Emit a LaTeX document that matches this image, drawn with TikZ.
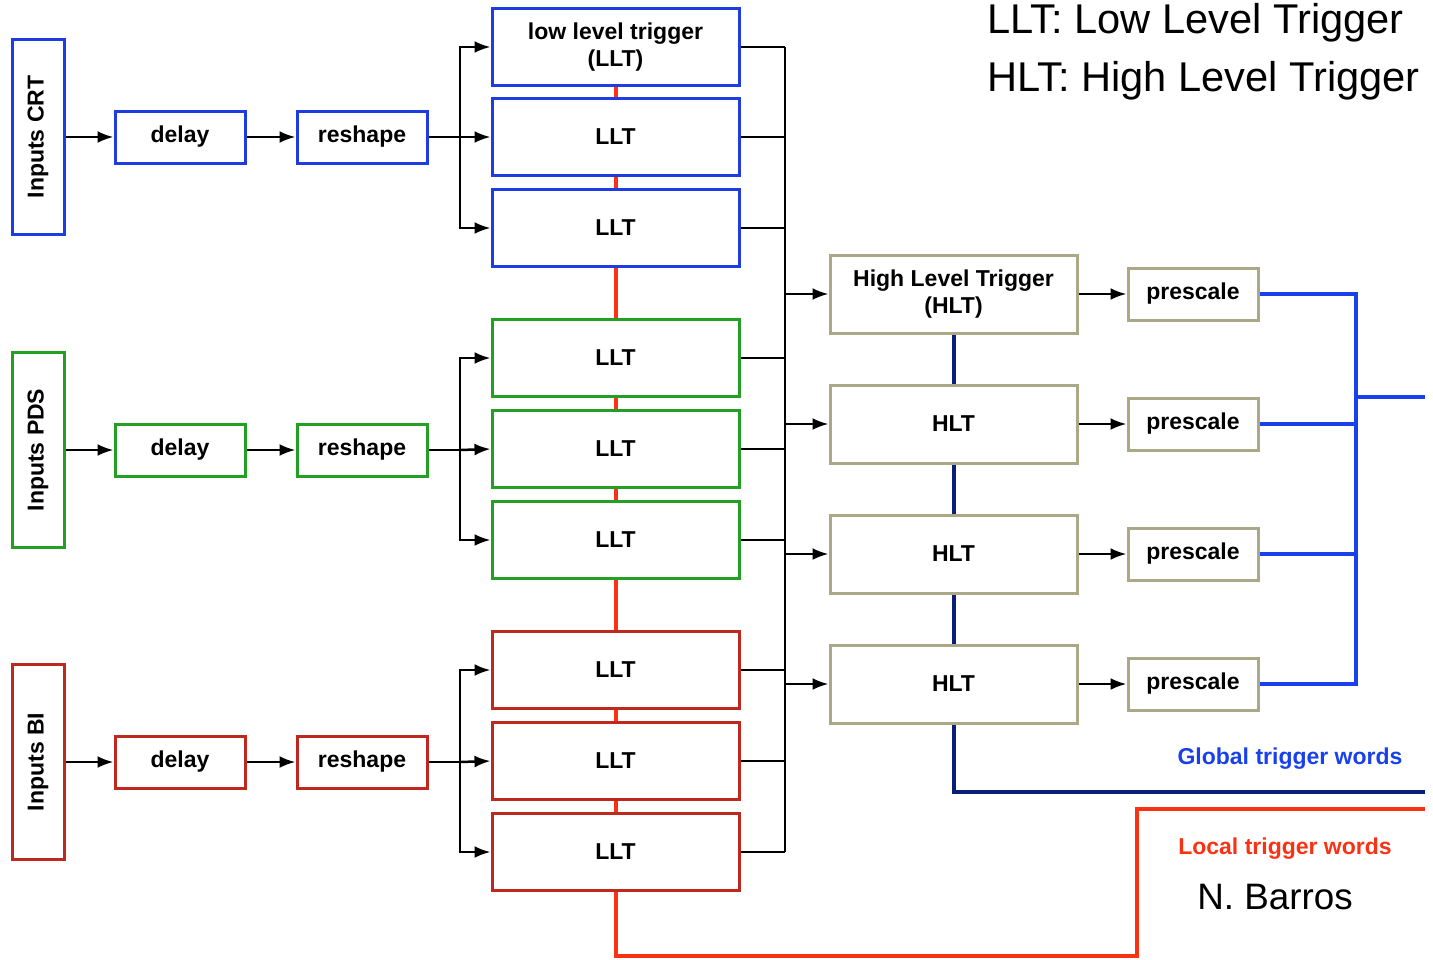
\documentclass[tikz,border=0pt]{standalone}
\usepackage{fontspec}
\setmainfont{Liberation Sans}
\usetikzlibrary{arrows.meta}
\usetikzlibrary{shadows}
\usetikzlibrary{backgrounds}

\definecolor{crtblue}{RGB}{30,60,225}
\definecolor{pdsgreen}{RGB}{35,160,35}
\definecolor{bired}{RGB}{190,40,30}
\definecolor{hltolive}{RGB}{170,168,135}
\definecolor{locred}{RGB}{250,50,20}
\definecolor{globnavy}{RGB}{10,30,120}
\definecolor{wordblue}{RGB}{25,65,235}

\begin{document}
\begin{tikzpicture}[x=0.5pt, y=-0.5pt,
	font=\bfseries\fontsize{11.5}{13.5}\selectfont,
	blk/.style={draw, line width=1.5pt, fill=white, drop shadow={opacity=0.3, shadow xshift=0.8pt, shadow yshift=-0.8pt}},
	inbox/.style={blk, rotate=90, minimum width=97.5pt, minimum height=26pt, inner sep=0pt},
	smallbox/.style={blk, minimum width=65pt, minimum height=26pt, inner sep=0pt},
	lltbox/.style={blk, minimum width=123.5pt, minimum height=38.5pt, inner sep=0pt, align=center},
	hltbox/.style={blk, draw=hltolive, minimum width=123.5pt, minimum height=39pt, inner sep=0pt, align=center},
	arr/.style={line width=1.25pt, -{Latex[length=8pt,width=6pt]}},
	wire/.style={line width=1.25pt},
	fat/.style={line width=2pt}]
	\useasboundingbox (0,0) rectangle (1433,959);
	
	% CRT chain
	\node[inbox, draw=crtblue] (inCRT) at (38,137) {Inputs CRT};
	\node[smallbox, draw=crtblue] (delCRT) at (180,137) {delay};
	\node[smallbox, draw=crtblue] (resCRT) at (362,137) {reshape};
	\node[lltbox, draw=crtblue] (lltCRTa) at (615.5,47) {low level trigger\\(LLT)};
	\node[lltbox, draw=crtblue] (lltCRTb) at (615.5,137) {LLT};
	\node[lltbox, draw=crtblue] (lltCRTc) at (615.5,228) {LLT};
	
	% PDS chain
	\node[inbox, draw=pdsgreen] (inPDS) at (38,450) {Inputs PDS};
	\node[smallbox, draw=pdsgreen] (delPDS) at (180,450) {delay};
	\node[smallbox, draw=pdsgreen] (resPDS) at (362,450) {reshape};
	\node[lltbox, draw=pdsgreen] (lltPDSa) at (615.5,358) {LLT};
	\node[lltbox, draw=pdsgreen] (lltPDSb) at (615.5,449) {LLT};
	\node[lltbox, draw=pdsgreen] (lltPDSc) at (615.5,540) {LLT};
	
	% BI chain
	\node[inbox, draw=bired] (inBI) at (38,762) {Inputs BI};
	\node[smallbox, draw=bired] (delBI) at (180,762) {delay};
	\node[smallbox, draw=bired] (resBI) at (362,762) {reshape};
	\node[lltbox, draw=bired] (lltBIa) at (615.5,670) {LLT};
	\node[lltbox, draw=bired] (lltBIb) at (615.5,761) {LLT};
	\node[lltbox, draw=bired] (lltBIc) at (615.5,852) {LLT};
	
	% high level
	\node[hltbox] (hltA) at (953.5,294) {High Level Trigger\\(HLT)};
	\node[hltbox] (hltB) at (953.5,424) {HLT};
	\node[hltbox] (hltC) at (953.5,554) {HLT};
	\node[hltbox] (hltD) at (953.5,684) {HLT};
	\node[smallbox, draw=hltolive] (preA) at (1193,294) {prescale};
	\node[smallbox, draw=hltolive] (preB) at (1193,424) {prescale};
	\node[smallbox, draw=hltolive] (preC) at (1193,554) {prescale};
	\node[smallbox, draw=hltolive] (preD) at (1193,684) {prescale};
	
	% inputs -> delay -> reshape -> LLT
	\draw[arr] (inCRT.south) -- (delCRT.west);
	\draw[arr] (delCRT) -- (resCRT);
	\coordinate (brCRT) at (460,137);
	\draw[wire] (resCRT.east) -- (brCRT);
	\draw[arr] (brCRT) -- (lltCRTb.west);
	\draw[arr] (brCRT) |- (lltCRTa.west);
	\draw[arr] (brCRT) |- (lltCRTc.west);
	
	\draw[arr] (inPDS.south) -- (delPDS.west);
	\draw[arr] (delPDS) -- (resPDS);
	\coordinate (brPDS) at (460,450);
	\draw[wire] (resPDS.east) -- (brPDS);
	\draw[arr] (brPDS) -- (lltPDSb.west);
	\draw[arr] (brPDS) |- (lltPDSa.west);
	\draw[arr] (brPDS) |- (lltPDSc.west);
	
	\draw[arr] (inBI.south) -- (delBI.west);
	\draw[arr] (delBI) -- (resBI);
	\coordinate (brBI) at (460,762);
	\draw[wire] (resBI.east) -- (brBI);
	\draw[arr] (brBI) -- (lltBIb.west);
	\draw[arr] (brBI) |- (lltBIa.west);
	\draw[arr] (brBI) |- (lltBIc.west);
	
	% LLT -> bus -> HLT
	\coordinate (busT) at (785,47);
	\coordinate (busB) at (785,852);
	\draw[wire] (busT) -- (busB);
	\draw[wire] (lltCRTa.east) -- (lltCRTa.east -| busT);
	\draw[wire] (lltCRTb.east) -- (lltCRTb.east -| busT);
	\draw[wire] (lltCRTc.east) -- (lltCRTc.east -| busT);
	\draw[wire] (lltPDSa.east) -- (lltPDSa.east -| busT);
	\draw[wire] (lltPDSb.east) -- (lltPDSb.east -| busT);
	\draw[wire] (lltPDSc.east) -- (lltPDSc.east -| busT);
	\draw[wire] (lltBIa.east) -- (lltBIa.east -| busT);
	\draw[wire] (lltBIb.east) -- (lltBIb.east -| busT);
	\draw[wire] (lltBIc.east) -- (lltBIc.east -| busT);
	\draw[arr] (hltA.west -| busT) -- (hltA.west);
	\draw[arr] (hltB.west -| busT) -- (hltB.west);
	\draw[arr] (hltC.west -| busT) -- (hltC.west);
	\draw[arr] (hltD.west -| busT) -- (hltD.west);
	\draw[arr] (hltA) -- (preA);
	\draw[arr] (hltB) -- (preB);
	\draw[arr] (hltC) -- (preC);
	\draw[arr] (hltD) -- (preD);
	
	% global trigger words
	\coordinate (bbus) at (1356,397);
	\coordinate (globOut) at (1425,397);
	\draw[fat, wordblue] (preA.east) -| (preD.east -| bbus) -- (preD.east);
	\draw[fat, wordblue] (preB.east) -- (preB.east -| bbus);
	\draw[fat, wordblue] (preC.east) -- (preC.east -| bbus);
	\draw[fat, wordblue] (bbus) -- (globOut);
	\coordinate (globEnd) at (1425,792);
	\coordinate (locTurn) at (1137,956);
	\coordinate (locEnd) at (1425,809);
	\begin{scope}[on background layer]
		\draw[fat, globnavy] (hltA.south) -- (hltD.north);
		\draw[fat, locred] (lltCRTa.south) -- (lltBIc.north);
	\end{scope}
	\draw[fat, globnavy] (hltD.south) |- (globEnd);
	\draw[fat, locred] (lltBIc.south) |- (locTurn) |- (locEnd);
	
	\node[text=wordblue] (globLbl) at (1290,759) {Global trigger words};
	\node[text=locred] (locLbl) at (1285,849) {Local trigger words};
	\node[anchor=base west, inner sep=0pt, font=\fontsize{18.4}{20}\selectfont] (author) at (1197,909) {N. Barros};
	\node[anchor=base west, inner sep=0pt, font=\fontsize{20.8}{24}\selectfont] (lltKey) at (987,33) {LLT: Low Level Trigger};
	\node[anchor=base west, inner sep=0pt, font=\fontsize{20.8}{24}\selectfont] (hltKey) at (987,91) {HLT: High Level Trigger};
\end{tikzpicture}
\end{document}
